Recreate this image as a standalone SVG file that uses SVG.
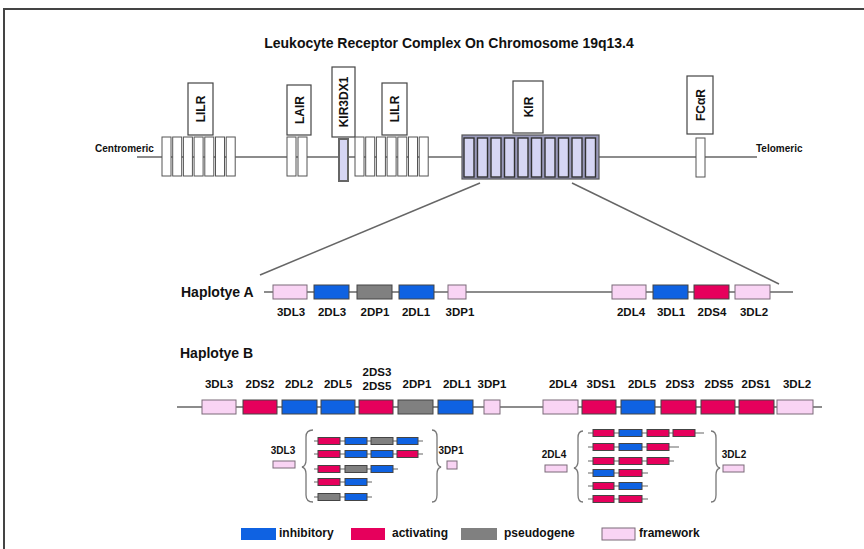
<svg xmlns="http://www.w3.org/2000/svg" width="864" height="549" viewBox="0 0 864 549">
<style>
text{font-family:"Liberation Sans",Arial,sans-serif;font-weight:bold;fill:#111}
.ln{stroke:#666;stroke-width:1.5;fill:none}
.thin{stroke:#666;stroke-width:1.2;fill:none}
.wb{fill:#fff;stroke:#555;stroke-width:1}
.lab{fill:#fff;stroke:#444;stroke-width:1.2}
.kb{fill:#d6d6f4;stroke:#333;stroke-width:1.4}
.inh{fill:#0f62e2;stroke:#444;stroke-width:1}
.act{fill:#e6005c;stroke:#444;stroke-width:1}
.pse{fill:#808080;stroke:#444;stroke-width:1}
.fw{fill:#f9d4f4;stroke:#7a6a78;stroke-width:1}
.g{font-size:11.5px;text-anchor:middle}
.s{font-size:10px;text-anchor:middle}
.rot{font-size:12px;text-anchor:middle}
.br{stroke:#777;stroke-width:1.3;fill:none}
</style>

<path d="M4 549 V9 H864" fill="none" stroke="#444" stroke-width="2"/>

<text x="449" y="48" font-size="14" text-anchor="middle">Leukocyte Receptor Complex On Chromosome 19q13.4</text>

<g id="connectors">
<line class="ln" x1="137" y1="157" x2="757" y2="157"/>
<line class="ln" x1="480" y1="183" x2="260" y2="275"/>
<line class="ln" x1="572" y1="183" x2="779" y2="284"/>
<line class="ln" x1="264" y1="292" x2="793" y2="292"/>
<line class="ln" x1="177" y1="407" x2="822" y2="407"/>
</g>

<g id="centromeric"><text x="95" y="152" font-size="10">Centromeric</text></g>
<g id="telomeric"><text x="756" y="152" font-size="10">Telomeric</text></g>

<g id="lilr1">
<rect class="wb" x="162" y="137" width="9" height="39"/>
<rect class="wb" x="172.7" y="137" width="9" height="39"/>
<rect class="wb" x="183.4" y="137" width="9" height="39"/>
<rect class="wb" x="194.1" y="137" width="9" height="39"/>
<rect class="wb" x="204.8" y="137" width="9" height="39"/>
<rect class="wb" x="215.5" y="137" width="9" height="39"/>
<rect class="wb" x="226.2" y="137" width="9" height="39"/>
<rect class="lab" x="188" y="83" width="25" height="52"/>
<text class="rot" transform="translate(204.5 109) rotate(-90)">LILR</text>
</g>

<g id="lair">
<rect class="wb" x="287" y="137" width="9" height="39"/>
<rect class="wb" x="298" y="137" width="9" height="39"/>
<rect class="lab" x="287" y="85" width="24" height="50"/>
<text class="rot" transform="translate(303.5 110) rotate(-90)">LAIR</text>
</g>

<g id="kir3dx1">
<rect x="339" y="139" width="9" height="42" fill="#d6d6f4" stroke="#666" stroke-width="2"/>
<rect class="lab" x="332" y="67" width="23" height="70"/>
<text class="rot" font-size="12" transform="translate(347.5 102) rotate(-90)">KIR3DX1</text>
</g>

<g id="lilr2">
<rect class="wb" x="355" y="137" width="9" height="39"/>
<rect class="wb" x="365.7" y="137" width="9" height="39"/>
<rect class="wb" x="376.4" y="137" width="9" height="39"/>
<rect class="wb" x="387.1" y="137" width="9" height="39"/>
<rect class="wb" x="397.8" y="137" width="9" height="39"/>
<rect class="wb" x="408.5" y="137" width="9" height="39"/>
<rect class="wb" x="419.2" y="137" width="9" height="39"/>
<rect class="lab" x="382" y="83" width="25" height="52"/>
<text class="rot" transform="translate(398.5 109) rotate(-90)">LILR</text>
</g>

<g id="kir">
<rect x="462" y="135" width="137" height="44" fill="#9a9abb" stroke="#555" stroke-width="1.2"/>
<rect class="kb" x="464" y="138" width="10" height="39"/>
<rect class="kb" x="477.5" y="138" width="10" height="39"/>
<rect class="kb" x="491" y="138" width="10" height="39"/>
<rect class="kb" x="504.5" y="138" width="10" height="39"/>
<rect class="kb" x="518" y="138" width="10" height="39"/>
<rect class="kb" x="531.5" y="138" width="10" height="39"/>
<rect class="kb" x="545" y="138" width="10" height="39"/>
<rect class="kb" x="558.5" y="138" width="10" height="39"/>
<rect class="kb" x="572" y="138" width="10" height="39"/>
<rect class="kb" x="585.5" y="138" width="10" height="39"/>
<rect class="lab" x="513" y="81" width="30" height="52"/>
<text class="rot" transform="translate(532.5 107) rotate(-90)">KIR</text>
</g>

<g id="fcar">
<rect class="wb" x="696" y="138" width="9" height="39"/>
<rect class="lab" x="687" y="76" width="26" height="58"/>
<text class="rot" transform="translate(704.5 105) rotate(-90)">FCαR</text>
</g>

<g id="haplotype-a">
<text x="181" y="297" font-size="14">Haplotye A</text>
<rect class="fw" x="273" y="285" width="34" height="14"/>
<rect class="inh" x="314" y="285" width="35" height="14"/>
<rect class="pse" x="357" y="285" width="35" height="14"/>
<rect class="inh" x="399" y="285" width="35" height="14"/>
<rect class="fw" x="448" y="285" width="18" height="14"/>
<rect class="fw" x="612" y="285" width="34" height="14"/>
<rect class="inh" x="653" y="285" width="35" height="14"/>
<rect class="act" x="694" y="285" width="35" height="14"/>
<rect class="fw" x="735" y="285" width="35" height="14"/>
<text class="g" x="291" y="316">3DL3</text>
<text class="g" x="332" y="316">2DL3</text>
<text class="g" x="375" y="316">2DP1</text>
<text class="g" x="416" y="316">2DL1</text>
<text class="g" x="460" y="316">3DP1</text>
<text class="g" x="631" y="316">2DL4</text>
<text class="g" x="671" y="316">3DL1</text>
<text class="g" x="712" y="316">2DS4</text>
<text class="g" x="754" y="316">3DL2</text>
</g>

<g id="haplotype-b">
<text x="180" y="358" font-size="14">Haplotye B</text>
<rect class="fw" x="202" y="400" width="34" height="14"/>
<rect class="act" x="243" y="400" width="34" height="14"/>
<rect class="inh" x="282" y="400" width="35" height="14"/>
<rect class="inh" x="321" y="400" width="34" height="14"/>
<rect class="act" x="359" y="400" width="34" height="14"/>
<rect class="pse" x="398" y="400" width="35" height="14"/>
<rect class="inh" x="438" y="400" width="35" height="14"/>
<rect class="fw" x="484" y="400" width="16" height="14"/>
<rect class="fw" x="543" y="400" width="35" height="14"/>
<rect class="act" x="582" y="400" width="34" height="14"/>
<rect class="inh" x="621" y="400" width="34" height="14"/>
<rect class="act" x="661" y="400" width="35" height="14"/>
<rect class="act" x="701" y="400" width="34" height="14"/>
<rect class="act" x="739" y="400" width="35" height="14"/>
<rect class="fw" x="777" y="400" width="36" height="14"/>
<text class="g" x="219" y="388">3DL3</text>
<text class="g" x="260" y="388">2DS2</text>
<text class="g" x="299" y="388">2DL2</text>
<text class="g" x="338" y="388">2DL5</text>
<text class="g" x="377" y="376">2DS3</text>
<text class="g" x="377" y="390">2DS5</text>
<text class="g" x="417" y="388">2DP1</text>
<text class="g" x="457" y="388">2DL1</text>
<text class="g" x="492" y="388">3DP1</text>
<text class="g" x="563" y="388">2DL4</text>
<text class="g" x="601" y="388">3DS1</text>
<text class="g" x="642" y="388">2DL5</text>
<text class="g" x="680" y="388">2DS3</text>
<text class="g" x="719" y="388">2DS5</text>
<text class="g" x="756" y="388">2DS1</text>
<text class="g" x="797" y="388">3DL2</text>
</g>

<g id="variants-left">
<text class="s" x="283" y="454">3DL3</text>
<rect class="fw" x="273" y="461" width="22" height="7"/>
<path class="br" d="M313 430 Q306 430 306 437 V460 Q306 466 302 467 Q306 468 306 474 V495 Q306 502 313 502"/>
<path class="br" d="M432 430 Q437 430 437 437 V460 Q437 466 441 467 Q437 468 437 474 V495 Q437 502 432 502"/>
<g class="thin">
<line x1="314" y1="441" x2="423" y2="441"/>
<line x1="314" y1="454" x2="423" y2="454"/>
<line x1="314" y1="469" x2="398" y2="469"/>
<line x1="314" y1="482" x2="372" y2="482"/>
<line x1="314" y1="497" x2="372" y2="497"/>
</g>
<rect class="act" x="318" y="437.5" width="22" height="7"/>
<rect class="inh" x="345" y="437.5" width="22" height="7"/>
<rect class="pse" x="371" y="437.5" width="22" height="7"/>
<rect class="inh" x="397" y="437.5" width="21" height="7"/>
<rect class="act" x="318" y="450.5" width="22" height="7"/>
<rect class="inh" x="345" y="450.5" width="22" height="7"/>
<rect class="inh" x="371" y="450.5" width="22" height="7"/>
<rect class="act" x="397" y="450.5" width="21" height="7"/>
<rect class="act" x="318" y="465.5" width="22" height="7"/>
<rect class="pse" x="345" y="465.5" width="22" height="7"/>
<rect class="inh" x="371" y="465.5" width="22" height="7"/>
<rect class="act" x="318" y="478.5" width="22" height="7"/>
<rect class="inh" x="345" y="478.5" width="22" height="7"/>
<rect class="pse" x="318" y="493.5" width="22" height="7"/>
<rect class="inh" x="345" y="493.5" width="22" height="7"/>
<text class="s" x="451" y="454">3DP1</text>
<rect class="fw" x="447" y="461" width="10" height="8"/>
</g>

<g id="variants-right">
<text class="s" x="554" y="458">2DL4</text>
<rect class="fw" x="545" y="465" width="22" height="7"/>
<path class="br" d="M583 431 Q578 431 578 438 V461 Q578 467 574 468 Q578 469 578 475 V495 Q578 502 583 502"/>
<path class="br" d="M711 431 Q716 431 716 438 V461 Q716 467 720 468 Q716 469 716 475 V495 Q716 502 711 502"/>
<g class="thin">
<line x1="588" y1="433" x2="704" y2="433"/>
<line x1="588" y1="447" x2="679" y2="447"/>
<line x1="588" y1="461" x2="674" y2="461"/>
<line x1="588" y1="473" x2="648" y2="473"/>
<line x1="588" y1="486" x2="648" y2="486"/>
<line x1="588" y1="499" x2="648" y2="499"/>
</g>
<rect class="act" x="593" y="429.5" width="21" height="7"/>
<rect class="inh" x="619" y="429.5" width="23" height="7"/>
<rect class="act" x="647" y="429.5" width="22" height="7"/>
<rect class="act" x="673" y="429.5" width="22" height="7"/>
<rect class="act" x="593" y="443.5" width="21" height="7"/>
<rect class="inh" x="619" y="443.5" width="23" height="7"/>
<rect class="act" x="647" y="443.5" width="22" height="7"/>
<rect class="act" x="593" y="457.5" width="21" height="7"/>
<rect class="act" x="619" y="457.5" width="23" height="7"/>
<rect class="act" x="647" y="457.5" width="22" height="7"/>
<rect class="inh" x="593" y="469.5" width="21" height="7"/>
<rect class="act" x="619" y="469.5" width="23" height="7"/>
<rect class="act" x="593" y="482.5" width="21" height="7"/>
<rect class="inh" x="619" y="482.5" width="23" height="7"/>
<rect class="act" x="593" y="495.5" width="21" height="7"/>
<rect class="act" x="619" y="495.5" width="23" height="7"/>
<text class="s" x="734" y="458">3DL2</text>
<rect class="fw" x="723" y="465" width="21" height="7"/>
</g>

<g id="legend">
<rect x="241" y="528" width="35" height="12" fill="#0f62e2"/>
<text x="279" y="537" font-size="12">inhibitory</text>
<rect x="351" y="528" width="34" height="12" fill="#e6005c"/>
<text x="392" y="537" font-size="12">activating</text>
<rect x="461" y="528" width="36" height="12" fill="#808080"/>
<text x="504" y="537" font-size="12">pseudogene</text>
<rect x="602" y="528" width="33" height="12" fill="#f9d4f4" stroke="#7a6a78" stroke-width="1"/>
<text x="639" y="537" font-size="12">framework</text>
</g>
</svg>
